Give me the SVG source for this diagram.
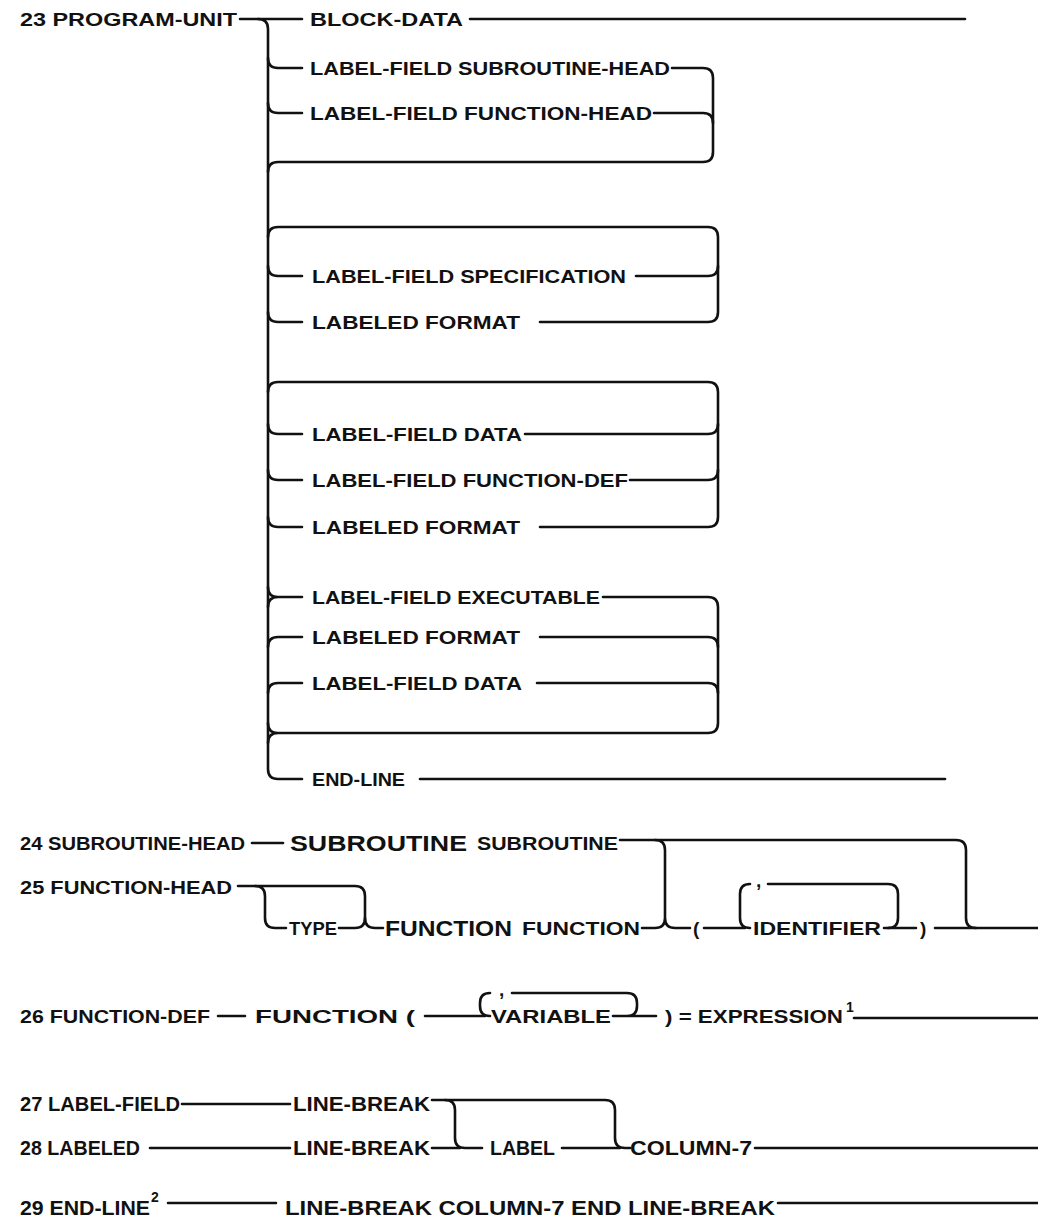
<svg xmlns="http://www.w3.org/2000/svg" width="1038" height="1226" viewBox="0 0 1038 1226">
<style>
text{font-family:"Liberation Sans",Arial,sans-serif;font-weight:bold;font-size:19px;fill:#111}
.big{font-size:22px}
.cond{font-size:21px}
.sup{font-size:14px}
.c path{fill:none;stroke:#111;stroke-width:2.6;stroke-linecap:round;stroke-linejoin:round}
</style>
<rect width="1038" height="1226" fill="#fff"/>
<g class="c" id="connectors">
<path d="M240,19 L302,19 M470,19 L965,19"/>
<path d="M258,19 Q268,19 268,29 L268,769 Q268,779 278,779 L302,779"/>
<path d="M268,58 Q268,68 278,68 L302,68 M268,103 Q268,113 278,113 L302,113"/>
<path d="M672,68 L703,68 Q713,68 713,78 L713,152 Q713,162 703,162 L278,162 Q268,162 268,172"/>
<path d="M654,113 L703,113 Q713,113 713,123"/>
<path d="M268,237 Q268,227 278,227 L708,227 Q718,227 718,237 L718,312 Q718,322 708,322 L540,322"/>
<path d="M268,266 Q268,276 278,276 L302,276 M268,312 Q268,322 278,322 L302,322"/>
<path d="M636,276 L708,276 Q718,276 718,266"/>
<path d="M268,392 Q268,382 278,382 L708,382 Q718,382 718,392 L718,517 Q718,527 708,527 L540,527"/>
<path d="M268,424 Q268,434 278,434 L302,434 M268,470 Q268,480 278,480 L302,480 M268,517 Q268,527 278,527 L302,527"/>
<path d="M525,434 L708,434 Q718,434 718,424 M630,480 L708,480 Q718,480 718,470"/>
<path d="M268,587 Q268,597 278,597 L302,597 M268,607 Q268,597 278,597"/>
<path d="M603,597 L708,597 Q718,597 718,607 L718,723 Q718,733 708,733 L278,733 Q268,733 268,723 M278,733 Q268,733 268,743"/>
<path d="M268,647 Q268,637 278,637 L302,637 M268,693 Q268,683 278,683 L302,683"/>
<path d="M540,637 L708,637 Q718,637 718,647 M537,683 L708,683 Q718,683 718,693"/>
<path d="M420,779 L945,779"/>
<path d="M252,843 L283,843"/>
<path d="M620,840 L956,840 Q966,840 966,850 L966,918 Q966,928 976,928 L1038,928"/>
<path d="M655,840 Q665,840 665,850 L665,918 Q665,928 675,928 L690,928 M642,928 L655,928 Q665,928 665,918"/>
<path d="M238,886 L355,886 Q365,886 365,896 L365,918 Q365,928 375,928 L383,928"/>
<path d="M255,886 Q265,886 265,896 L265,918 Q265,928 275,928 L286,928 M339,928 L355,928 Q365,928 365,918"/>
<path d="M704,928 L745,928 M740,918 L740,894 Q740,884 750,884 M768,884 L888,884 Q898,884 898,894 L898,918 Q898,928 888,928 M740,918 Q740,928 750,928"/>
<path d="M884,928 L916,928 M935,928 L976,928"/>
<path d="M218,1016 L245,1016 M425,1016 L485,1016"/>
<path d="M480,1006 Q480,1016 490,1016 M480,1006 L480,1003 Q480,993 490,993 M512,993 L627,993 Q637,993 637,1003 L637,1006 Q637,1016 627,1016 M613,1016 L656,1016"/>
<path d="M854,1018 L1038,1018"/>
<path d="M182,1104 L290,1104"/>
<path d="M432,1100 L605,1100 Q615,1100 615,1110 L615,1138 Q615,1148 625,1148 L630,1148"/>
<path d="M445,1100 Q455,1100 455,1110 L455,1138 Q455,1148 465,1148 L482,1148"/>
<path d="M150,1148 L290,1148 M432,1148 L460,1148 M562,1148 L620,1148 M755,1148 L1038,1148"/>
<path d="M168,1203 L276,1203 M778,1203 L1038,1203"/>
</g>
<g id="n23"><text x="20" y="26" textLength="217" lengthAdjust="spacingAndGlyphs">23 PROGRAM-UNIT</text></g>
<g id="block-data"><text x="310" y="26" textLength="153" lengthAdjust="spacingAndGlyphs">BLOCK-DATA</text></g>
<g id="lf-sub"><text x="310" y="75" textLength="360" lengthAdjust="spacingAndGlyphs">LABEL-FIELD SUBROUTINE-HEAD</text></g>
<g id="lf-fun"><text x="310" y="120" textLength="342" lengthAdjust="spacingAndGlyphs">LABEL-FIELD FUNCTION-HEAD</text></g>
<g id="lf-spec"><text x="312" y="283" textLength="314" lengthAdjust="spacingAndGlyphs">LABEL-FIELD SPECIFICATION</text></g>
<g id="lfmt1"><text x="312" y="329" textLength="208" lengthAdjust="spacingAndGlyphs">LABELED FORMAT</text></g>
<g id="lf-data1"><text x="312" y="441" textLength="210" lengthAdjust="spacingAndGlyphs">LABEL-FIELD DATA</text></g>
<g id="lf-fdef"><text x="312" y="487" textLength="316" lengthAdjust="spacingAndGlyphs">LABEL-FIELD FUNCTION-DEF</text></g>
<g id="lfmt2"><text x="312" y="534" textLength="208" lengthAdjust="spacingAndGlyphs">LABELED FORMAT</text></g>
<g id="lf-exec"><text x="312" y="604" textLength="288" lengthAdjust="spacingAndGlyphs">LABEL-FIELD EXECUTABLE</text></g>
<g id="lfmt3"><text x="312" y="644" textLength="208" lengthAdjust="spacingAndGlyphs">LABELED FORMAT</text></g>
<g id="lf-data2"><text x="312" y="690" textLength="210" lengthAdjust="spacingAndGlyphs">LABEL-FIELD DATA</text></g>
<g id="end-line"><text x="312" y="786" textLength="93" lengthAdjust="spacingAndGlyphs">END-LINE</text></g>
<g id="n24"><text x="20" y="850" textLength="225" lengthAdjust="spacingAndGlyphs">24 SUBROUTINE-HEAD</text></g>
<g id="sub-kw"><text class="big" x="290" y="851" textLength="177" lengthAdjust="spacingAndGlyphs">SUBROUTINE</text></g>
<g id="sub-id"><text x="477" y="850" textLength="141" lengthAdjust="spacingAndGlyphs">SUBROUTINE</text></g>
<g id="n25"><text x="20" y="894" textLength="212" lengthAdjust="spacingAndGlyphs">25 FUNCTION-HEAD</text></g>
<g id="type"><text x="289" y="935" textLength="48" lengthAdjust="spacingAndGlyphs">TYPE</text></g>
<g id="fun-kw"><text class="big" x="385" y="936" textLength="127" lengthAdjust="spacingAndGlyphs">FUNCTION</text></g>
<g id="fun-id"><text x="522" y="935" textLength="118" lengthAdjust="spacingAndGlyphs">FUNCTION</text></g>
<g id="lp25"><text x="693" y="935">(</text></g>
<g id="comma25"><text x="756" y="887">,</text></g>
<g id="identifier"><text x="753" y="935" textLength="128" lengthAdjust="spacingAndGlyphs">IDENTIFIER</text></g>
<g id="rp25"><text x="920" y="935">)</text></g>
<g id="n26"><text x="20" y="1023" textLength="190" lengthAdjust="spacingAndGlyphs">26 FUNCTION-DEF</text></g>
<g id="fun26"><text x="255" y="1023" textLength="160" lengthAdjust="spacingAndGlyphs">FUNCTION (</text></g>
<g id="comma26"><text x="499" y="996">,</text></g>
<g id="variable"><text x="491" y="1023" textLength="120" lengthAdjust="spacingAndGlyphs">VARIABLE</text></g>
<g id="expr"><text x="665" y="1023" textLength="178" lengthAdjust="spacingAndGlyphs">) = EXPRESSION</text><text class="sup" x="846" y="1012">1</text></g>
<g id="n27"><text class="cond" x="20" y="1111" textLength="160" lengthAdjust="spacingAndGlyphs">27 LABEL-FIELD</text></g>
<g id="lb27"><text class="cond" x="293" y="1111" textLength="137" lengthAdjust="spacingAndGlyphs">LINE-BREAK</text></g>
<g id="n28"><text class="cond" x="20" y="1155" textLength="120" lengthAdjust="spacingAndGlyphs">28 LABELED</text></g>
<g id="lb28"><text class="cond" x="293" y="1155" textLength="137" lengthAdjust="spacingAndGlyphs">LINE-BREAK</text></g>
<g id="label"><text class="cond" x="490" y="1155" textLength="65" lengthAdjust="spacingAndGlyphs">LABEL</text></g>
<g id="col7"><text class="cond" x="630" y="1155" textLength="122" lengthAdjust="spacingAndGlyphs">COLUMN-7</text></g>
<g id="n29"><text class="cond" x="20" y="1215" textLength="130" lengthAdjust="spacingAndGlyphs">29 END-LINE</text><text class="sup" x="151" y="1202">2</text></g>
<g id="seq29"><text class="cond" x="285" y="1215" textLength="490" lengthAdjust="spacingAndGlyphs">LINE-BREAK COLUMN-7 END LINE-BREAK</text></g>
</svg>
